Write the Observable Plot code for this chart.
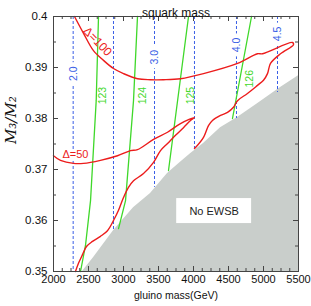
<!DOCTYPE html>
<html><head><meta charset="utf-8">
<script src="https://cdn.jsdelivr.net/npm/d3@7"></script>
<script src="https://cdn.jsdelivr.net/npm/@observablehq/plot@0.6"></script>
<style>body{margin:0;background:#fff;} svg{display:block;}</style>
</head><body><div id="chart"></div>
<script>
// ---- axis ticks ----
const xMajorTicks = [2000, 2500, 3000, 3500, 4000, 4500, 5000, 5500];
const yMajorTicks = [0.35, 0.36, 0.37, 0.38, 0.39, 0.4];
const yTickLabels = ["0.35", "0.36", "0.37", "0.38", "0.39", "0.4"];
const xMinorStep = 125, yMinorStep = 0.005;

// ---- No EWSB region boundary ----
const grayX = [2414, 2571, 2857, 3143, 3386, 3629, 3814, 3957, 4143, 4386, 4629, 4914, 5243, 5500];
const grayY = [0.35, 0.3527, 0.358, 0.3625, 0.3653, 0.3692, 0.3714, 0.3731, 0.3751, 0.3782, 0.3802, 0.3829, 0.3861, 0.3884];

// ---- squark mass contours (TeV), dashed blue ----
const squarkMass = ["2.0", "2.5", "3.0", "3.5", "4.0", "4.5"];
const squarkX = [2281, 2857, 3443, 4014, 4614, 5200];
const squarkEnd = [0.35, 0.3582, 0.3665, 0.3741, 0.38, 0.3851];
const squarkLabelText = ["2.0", "3.0", "4.0", "4.5"];
const squarkLabelX = [2281, 3443, 4614, 5200];
const squarkLabelY = [0.3888, 0.392, 0.3944, 0.3966];

// ---- Higgs mass contours (GeV), green ----
const h123X = [2643, 2610, 2529, 2457, 2386];
const h123Y = [0.4, 0.3835, 0.3639, 0.3551, 0.35];
const h124X = [3200, 3143, 3029, 2929];
const h124Y = [0.4, 0.3835, 0.3639, 0.3584];
const h125X = [3929, 3643];
const h125Y = [0.4, 0.3698];
const h126X = [4829, 4557];
const h126Y = [0.4, 0.38];
const higgsLabelText = ["123", "124", "125", "126"];
const higgsLabelX = [2707, 3279, 3957, 4800];
const higgsLabelY = [0.3845, 0.3845, 0.3845, 0.3878];

// ---- fine-tuning contours, red ----
const d100X = [2300, 2429, 2571, 2714, 2857, 3000, 3200, 3386, 3571, 3814, 4143, 4629, 4914, 4986, 5414, 5429, 5243, 5100, 5057, 5000, 4914, 4771, 4629, 4571, 4486, 4386, 4271, 4214, 4143, 4029, 4014];
const d100Y = [0.4, 0.3967, 0.3933, 0.3914, 0.3898, 0.3888, 0.3878, 0.3876, 0.3876, 0.3878, 0.3888, 0.3908, 0.3927, 0.3927, 0.3949, 0.3945, 0.3927, 0.3908, 0.3888, 0.3875, 0.3865, 0.3849, 0.3835, 0.3822, 0.3812, 0.3806, 0.3796, 0.3786, 0.3763, 0.3743, 0.3741];
const d50X = [2000, 2100, 2286, 2429, 2671, 2914, 3100, 3200, 3429, 3629, 3814, 4014, 3957, 3857, 3743, 3629, 3529, 3429, 3286, 3143, 3071, 3000, 2929, 2857, 2771, 2671, 2557, 2471, 2414, 2357, 2314];
const d50Y = [0.3727, 0.3718, 0.3712, 0.3712, 0.3718, 0.3727, 0.3737, 0.3739, 0.3759, 0.3773, 0.379, 0.3802, 0.3796, 0.3782, 0.3767, 0.3751, 0.3737, 0.3714, 0.3692, 0.3678, 0.3665, 0.3645, 0.362, 0.36, 0.358, 0.3569, 0.3559, 0.3549, 0.3533, 0.3516, 0.35];
const deltaLabels = [
  {text: "Δ=100", x: 2629, y: 0.3951, rotate: 46},
  {text: "Δ=50", x: 2314, y: 0.3729, rotate: 0}
];

// ---- annotation box ----
const noEwsb = [{text: "No EWSB", x1: 3760, x2: 4830, y1: 0.3594, y2: 0.3643, x: 4295, y: 0.3618}];

const pts = (xs, ys) => xs.map((x, i) => ({x, y: ys[i]}));
const squark = squarkX.map((x, i) => ({x, top: 0.4, end: squarkEnd[i], m: squarkMass[i]}));
const squarkLabels = squarkLabelText.map((t, i) => ({t, x: squarkLabelX[i], y: squarkLabelY[i]}));
const higgsLabels = higgsLabelText.map((t, i) => ({t, x: higgsLabelX[i], y: higgsLabelY[i]}));
const xMinor = d3.range(2000, 5500 + 1, xMinorStep);
const yMinor = d3.range(0, 11).map(i => 0.35 + i * yMinorStep);

const RED = "#ec1c1c", GREEN = "#3fd82a", BLUE = "#3b5fe6", GRAY = "#c9cecb";
const H = 306, MT = 16, MB = 35, PH = H - MT - MB;
const FONT = "'Liberation Sans', Arial, sans-serif";

const chart = Plot.plot({
  width: 311, height: H,
  marginTop: MT, marginBottom: MB, marginLeft: 53, marginRight: 13,
  style: {fontFamily: FONT, fontSize: "10px", color: "#111", background: "#fff"},
  x: {domain: [2000, 5500]},
  y: {domain: [0.35, 0.4]},
  marks: [
    Plot.areaY(pts(grayX, grayY), {x: "x", y1: 0.35, y2: "y", fill: GRAY}),
    Plot.ruleX(squark, {x: "x", y1: "top", y2: "end", stroke: BLUE, strokeWidth: 1, strokeDasharray: "3,2"}),
    Plot.text(squarkLabels, {x: "x", y: "y", text: "t", rotate: -90, fill: BLUE, fontSize: 10.5, stroke: "white", strokeWidth: 9, paintOrder: "stroke"}),
    Plot.text(deltaLabels.slice(1), {x: "x", y: "y", text: "text", fill: RED, fontSize: 11, stroke: "white", strokeWidth: 6, paintOrder: "stroke"}),
    Plot.line(pts(h123X, h123Y), {x: "x", y: "y", stroke: GREEN, strokeWidth: 1.3}),
    Plot.line(pts(h124X, h124Y), {x: "x", y: "y", stroke: GREEN, strokeWidth: 1.3}),
    Plot.line(pts(h125X, h125Y), {x: "x", y: "y", stroke: GREEN, strokeWidth: 1.3}),
    Plot.line(pts(h126X, h126Y), {x: "x", y: "y", stroke: GREEN, strokeWidth: 1.3}),
    Plot.text(higgsLabels, {x: "x", y: "y", text: "t", rotate: -90, fill: GREEN, fontSize: 10.5}),
    Plot.line(pts(d100X, d100Y), {x: "x", y: "y", stroke: RED, strokeWidth: 1.4, curve: "catmull-rom"}),
    Plot.line(pts(d50X, d50Y), {x: "x", y: "y", stroke: RED, strokeWidth: 1.4, curve: "catmull-rom"}),
    Plot.text(deltaLabels.slice(0, 1), {x: "x", y: "y", text: "text", rotate: "rotate", fill: RED, fontSize: 12}),
    Plot.rect(noEwsb, {x1: "x1", x2: "x2", y1: "y1", y2: "y2", fill: "white"}),
    Plot.text(noEwsb, {x: "x", y: "y", text: "text", fontSize: 11, fill: "#222"}),
    // frame and inward ticks
    Plot.frame({stroke: "#444", strokeWidth: 1}),
    Plot.tickX(xMinor, {x: d => d, insetTop: PH - 3, stroke: "#444"}),
    Plot.tickX(xMinor, {x: d => d, insetBottom: PH - 3, stroke: "#444"}),
    Plot.tickX(xMajorTicks, {x: d => d, insetTop: PH - 5, stroke: "#444"}),
    Plot.tickX(xMajorTicks, {x: d => d, insetBottom: PH - 5, stroke: "#444"}),
    Plot.tickY(yMinor, {y: d => d, insetRight: 245 - 3, stroke: "#444"}),
    Plot.tickY(yMinor, {y: d => d, insetLeft: 245 - 3, stroke: "#444"}),
    Plot.tickY(yMajorTicks, {y: d => d, insetRight: 245 - 5, stroke: "#444"}),
    Plot.tickY(yMajorTicks, {y: d => d, insetLeft: 245 - 5, stroke: "#444"}),
    Plot.axisX({ticks: xMajorTicks, tickSize: 0, tickPadding: 4, fontSize: 11, tickFormat: d => String(d), label: null}),
    Plot.axisY({ticks: yMajorTicks, tickSize: 0, tickPadding: 6, fontSize: 11.5, tickFormat: d => yTickLabels[yMajorTicks.indexOf(d)], label: null}),
    Plot.text(["squark mass"], {frameAnchor: "top", dy: -8, fontSize: 12, fill: "#111"}),
    Plot.text(["gluino mass(GeV)"], {frameAnchor: "bottom", dy: 27, fontSize: 10.5, fill: "#111"}),
    Plot.text(["M₃/M₂"], {frameAnchor: "left", dx: -42, rotate: -90, fontSize: 15, fontStyle: "italic", fontFamily: "'DejaVu Serif', 'Liberation Serif', serif", fill: "#111"})
  ]
});
document.getElementById("chart").appendChild(chart);
</script>
</body></html>
